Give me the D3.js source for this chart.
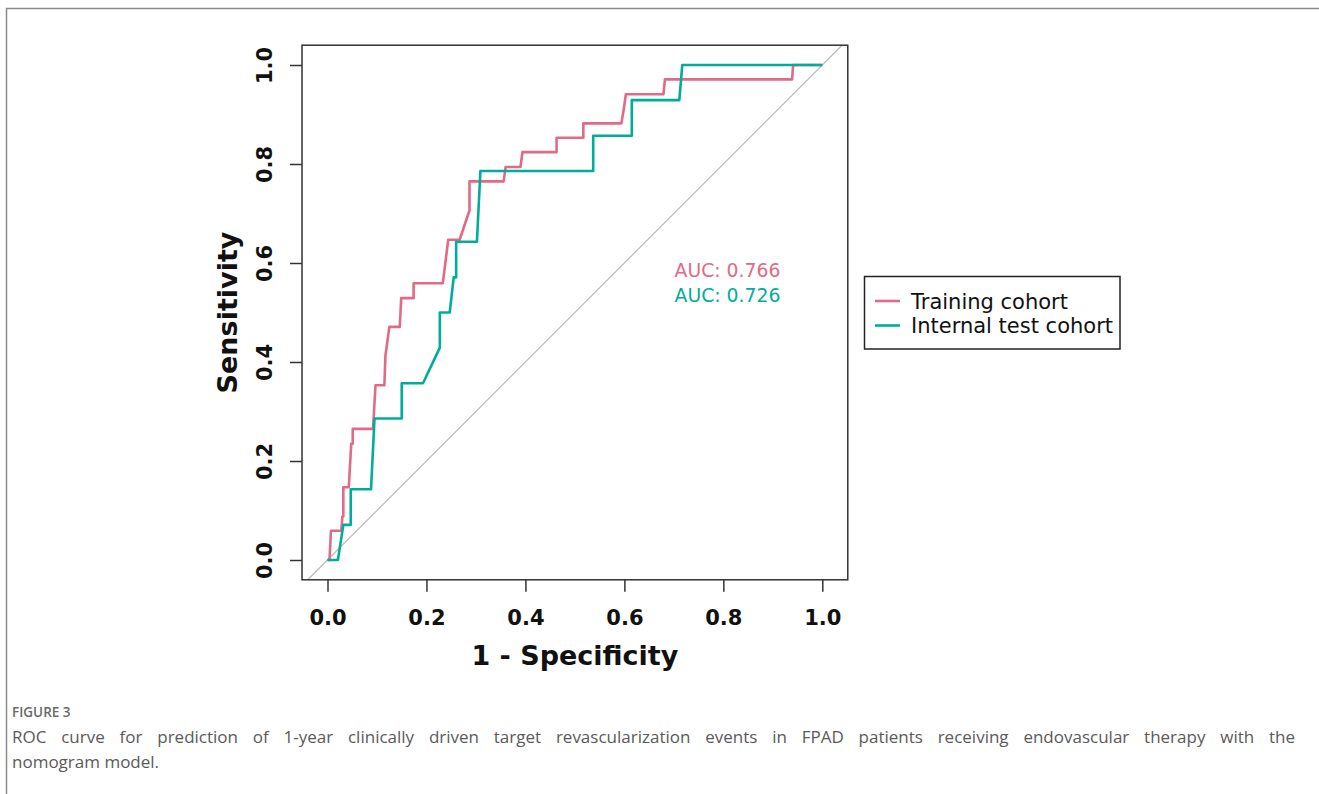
<!DOCTYPE html>
<html>
<head>
<meta charset="utf-8">
<script src="https://cdn.jsdelivr.net/npm/d3@7"></script>
<style>
  html, body { margin: 0; padding: 0; background: #fff; }
  #wrap { position: relative; width: 1319px; height: 794px; overflow: hidden; }
  .cap { position: absolute; font-family: "Open Sans", sans-serif; color: #5a5a5a; white-space: nowrap; }
</style>
</head>
<body>
<div id="wrap"></div>
<script>
// ---- data ----
const seriesNames = ["Training cohort", "Internal test cohort"];
const seriesColors = ["#E16A86", "#00AD9A"];
const aucLabels = ["AUC: 0.766", "AUC: 0.726"];
const xTicks = [0.0, 0.2, 0.4, 0.6, 0.8, 1.0];
const yTicks = [0.0, 0.2, 0.4, 0.6, 0.8, 1.0];
// 1 - specificity
const trainFpr = [0, 0.004, 0.007, 0.028, 0.030, 0.032, 0.032, 0.043, 0.048, 0.051, 0.051, 0.092, 0.097, 0.115, 0.117, 0.125, 0.146, 0.149, 0.174, 0.174, 0.233, 0.244, 0.267, 0.287, 0.287, 0.356, 0.360, 0.390, 0.394, 0.463, 0.463, 0.517, 0.517, 0.594, 0.599, 0.603, 0.679, 0.682, 0.939, 0.941, 1.0];
// sensitivity
const trainTpr = [0, 0, 0.059, 0.059, 0.088, 0.088, 0.147, 0.147, 0.235, 0.235, 0.265, 0.265, 0.353, 0.353, 0.412, 0.471, 0.471, 0.529, 0.529, 0.559, 0.559, 0.647, 0.647, 0.706, 0.765, 0.765, 0.794, 0.794, 0.824, 0.824, 0.853, 0.853, 0.882, 0.882, 0.912, 0.941, 0.941, 0.971, 0.971, 1.0, 1.0];
const testFpr = [0, 0.021, 0.032, 0.047, 0.047, 0.088, 0.095, 0.150, 0.150, 0.193, 0.227, 0.227, 0.247, 0.255, 0.260, 0.260, 0.302, 0.309, 0.537, 0.537, 0.615, 0.615, 0.711, 0.717, 1.0];
const testTpr = [0, 0, 0.071, 0.071, 0.143, 0.143, 0.286, 0.286, 0.357, 0.357, 0.429, 0.500, 0.500, 0.571, 0.571, 0.643, 0.643, 0.786, 0.786, 0.857, 0.857, 0.929, 0.929, 1.0, 1.0];
const captionLabel = "FIGURE 3";
const captionLine1 = "ROC curve for prediction of 1-year clinically driven target revascularization events in FPAD patients receiving endovascular therapy with the";
const captionLine2 = "nomogram model.";

// ---- layout ----
const W = 1319, H = 794;
const wrap = d3.select("#wrap");
const svg = wrap.append("svg").attr("width", W).attr("height", H)
  .style("position", "absolute").style("left", 0).style("top", 0);

// outer figure frame
svg.append("rect").attr("x", 6.5).attr("y", 8.5).attr("width", W + 20).attr("height", H + 20)
  .attr("fill", "none").attr("stroke", "#8a8a8a").attr("stroke-width", 1.5);

const x = d3.scaleLinear().domain([0, 1]).range([327.5, 822.3]);
const y = d3.scaleLinear().domain([0, 1]).range([560, 65]);
const box = { l: x(-0.0515), r: x(1.0515), t: y(1.04), b: y(-0.04) };

const font = "'DejaVu Sans', sans-serif";

// diagonal reference line
svg.append("line")
  .attr("x1", x(-0.04)).attr("y1", y(-0.04)).attr("x2", x(1.04)).attr("y2", y(1.04))
  .attr("stroke", "#bdbdbd").attr("stroke-width", 1.3);

// curves
const line = d3.line().x(d => x(d[0])).y(d => y(d[1]));
const trainPts = trainFpr.map((v, i) => [v, trainTpr[i]]);
const testPts = testFpr.map((v, i) => [v, testTpr[i]]);
svg.append("path").datum(trainPts).attr("d", line)
  .attr("fill", "none").attr("stroke", seriesColors[0]).attr("stroke-width", 2.6)
  .attr("stroke-linejoin", "round");
svg.append("path").datum(testPts).attr("d", line)
  .attr("fill", "none").attr("stroke", seriesColors[1]).attr("stroke-width", 2.6)
  .attr("stroke-linejoin", "round");

// box
svg.append("rect").attr("x", box.l).attr("y", box.t)
  .attr("width", box.r - box.l).attr("height", box.b - box.t)
  .attr("fill", "none").attr("stroke", "#333").attr("stroke-width", 1.5);

// x axis
const xAxis = d3.axisBottom(x).tickValues(xTicks).tickFormat(d3.format(".1f"))
  .tickSize(12).tickPadding(18);
const gx = svg.append("g").attr("transform", `translate(0,${box.b})`).call(xAxis);
gx.select(".domain").remove();
gx.selectAll(".tick line").attr("stroke", "#333").attr("stroke-width", 1.5);
gx.selectAll(".tick text").attr("font-family", font).attr("font-weight", "bold")
  .attr("font-size", 21).attr("fill", "#111");

// y axis
const yAxis = d3.axisLeft(y).tickValues(yTicks).tickFormat(d3.format(".1f"))
  .tickSize(12).tickPadding(0);
const gy = svg.append("g").attr("transform", `translate(${box.l},0)`).call(yAxis);
gy.select(".domain").remove();
gy.selectAll(".tick line").attr("stroke", "#333").attr("stroke-width", 1.5);
gy.selectAll(".tick text")
  .attr("font-family", font).attr("font-weight", "bold").attr("font-size", 21).attr("fill", "#111")
  .attr("text-anchor", "middle").attr("dy", null)
  .attr("x", null)
  .attr("transform", `translate(${265 - box.l},0) rotate(-90)`)
  .attr("dominant-baseline", "central");

// axis titles
svg.append("text").attr("x", (x(0) + x(1)) / 2).attr("y", 665)
  .attr("text-anchor", "middle").attr("font-family", font).attr("font-weight", "bold")
  .attr("font-size", 27).attr("fill", "#111").text("1 - Specificity");
svg.append("text").attr("transform", `translate(237,${(y(0) + y(1)) / 2}) rotate(-90)`)
  .attr("text-anchor", "middle").attr("font-family", font).attr("font-weight", "bold")
  .attr("font-size", 27).attr("fill", "#111").text("Sensitivity");

// AUC labels
aucLabels.forEach((t, i) => {
  svg.append("text").attr("x", 727.5).attr("y", 277 + i * 25)
    .attr("text-anchor", "middle").attr("font-family", font).attr("font-size", 18.8)
    .attr("fill", seriesColors[i]).text(t);
});

// legend
const lg = svg.append("g");
lg.append("rect").attr("x", 864.5).attr("y", 276.5).attr("width", 255.5).attr("height", 72.5)
  .attr("fill", "#fff").attr("stroke", "#222").attr("stroke-width", 1.5);
seriesNames.forEach((name, i) => {
  const yy = 301 + i * 24.5;
  lg.append("line").attr("x1", 875).attr("x2", 900).attr("y1", yy).attr("y2", yy)
    .attr("stroke", seriesColors[i]).attr("stroke-width", 2.6);
  lg.append("text").attr("x", 911).attr("y", yy + 7.5).attr("font-family", font)
    .attr("font-size", 21).attr("fill", "#111").text(name);
});

// caption (HTML text)
wrap.append("div").attr("class", "cap")
  .style("left", "12px").style("top", "703px").style("font-size", "13.5px")
  .style("font-weight", "600").style("color", "#6a6a6a").text(captionLabel);
wrap.append("div").attr("class", "cap")
  .style("left", "12px").style("top", "725px").style("width", "1283px")
  .style("font-size", "17px").style("text-align", "justify").style("text-align-last", "justify")
  .style("white-space", "normal")
  .text(captionLine1);
wrap.append("div").attr("class", "cap")
  .style("left", "12px").style("top", "750px").style("font-size", "17px")
  .text(captionLine2);
</script>
</body>
</html>
